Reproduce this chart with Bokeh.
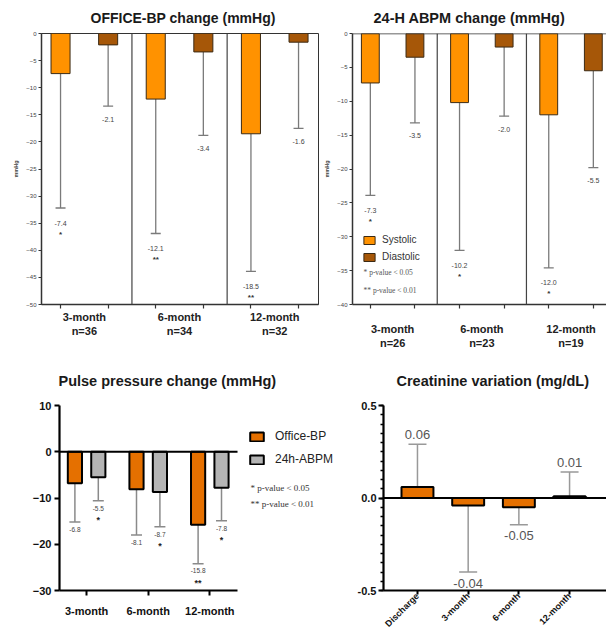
from bokeh.plotting import figure
from bokeh.layouts import row, column
from bokeh.models import (Range1d, FixedTicker, SingleIntervalTicker, Span, ColumnDataSource,
                          Label, Legend, LegendItem, PrintfTickFormatter)
from bokeh.core.properties import value
from bokeh.embed import file_html
from bokeh.resources import INLINE

# ---------------- data ----------------
periods = ["3-month", "6-month", "12-month"]

office_n = ["n=36", "n=34", "n=32"]
office_sys = [-7.4, -12.1, -18.5]
office_sys_sd = [24.8, 24.8, 25.4]
office_dia = [-2.1, -3.4, -1.6]
office_dia_sd = [11.3, 15.4, 15.9]
office_sys_sig = ["*", "**", "**"]
office_dia_sig = ["", "", ""]

abpm_n = ["n=26", "n=23", "n=19"]
abpm_sys = [-7.3, -10.2, -12.0]
abpm_sys_sd = [16.6, 21.8, 22.6]
abpm_dia = [-3.5, -2.0, -5.5]
abpm_dia_sd = [9.7, 10.2, 14.3]
abpm_sys_sig = ["*", "*", "*"]
abpm_dia_sig = ["", "", ""]

pp_office = [-6.8, -8.1, -15.8]
pp_office_sd = [8.4, 9.9, 8.4]
pp_abpm = [-5.5, -8.7, -7.8]
pp_abpm_sd = [5.1, 7.5, 7.1]
pp_office_sig = ["", "", "**"]
pp_abpm_sig = ["*", "*", "*"]

creat_periods = ["Discharge", "3-month", "6-month", "12-month"]
creat = [0.06, -0.04, -0.05, 0.01]
creat_sd = [0.23, 0.36, 0.095, 0.13]

SANS = "Liberation Sans"
SERIF = "Liberation Serif"
SYS_C = "#FF9200"
DIA_C = "#A65708"
OFF_C = "#E57000"
ABPM_C = "#B4B4B4"


def errbars(p, xs, means, sds, color, lw, cap):
    ends = [m + (s if m > 0 else -s) for m, s in zip(means, sds)]
    src = ColumnDataSource(dict(x=xs, m=means, e=ends))
    p.segment(x0="x", y0="m", x1="x", y1="e", source=src, line_color=color, line_width=lw)
    p.scatter(x="x", y="e", source=src, marker="dash", size=cap, line_color=color, line_width=lw)
    return ends


def texts(p, xs, ys, labels, size, color, offsets, style="normal", font=SANS):
    if not isinstance(offsets, list):
        offsets = [offsets] * len(xs)
    src = ColumnDataSource(dict(x=xs, y=ys, t=labels, o=offsets))
    p.text(x="x", y="y", text="t", source=src, text_font=value(font), text_font_size=size,
           text_color=color, text_align="center", text_baseline="middle", y_offset="o",
           text_font_style=style)


def set_title(p, txt, offset, standoff, size="14.5px"):
    p.title.text = txt
    p.title.align = "left"
    p.title.vertical_align = "middle"
    p.title.offset = offset
    p.title.standoff = standoff
    p.title.text_font = SANS
    p.title.text_font_size = size
    p.title.text_font_style = "bold"
    p.title.text_color = "#1a1a1a"


TOP_H = 352
TOP_BT = 33
TOP_FH = 271


def top_panel(ttl, width, bl, fw, unit, ymin, sysv, syssd, diav, diasd, syssig, diasig,
              ns, std, toff, tstand, tsize, box):
    p = figure(width=width, height=TOP_H, x_range=Range1d(-0.4, -0.4 + fw / unit),
               y_range=Range1d(ymin, 0), output_backend="svg", toolbar_location=None,
               min_border_left=bl, min_border_right=width - bl - fw,
               min_border_top=TOP_BT, min_border_bottom=TOP_H - TOP_BT - TOP_FH)
    p.grid.visible = False
    n = len(periods)
    xs_s = [2 * i for i in range(n)]
    xs_d = [2 * i + 1 for i in range(n)]
    centers = [2 * i + 0.5 for i in range(n)]
    for c in [1.5, 3.5]:
        p.add_layout(Span(location=c, dimension="height", line_color="#444", line_width=1.2))
    e_s = errbars(p, xs_s, sysv, syssd, "#7a7a7a", 1.3, 10)
    e_d = errbars(p, xs_d, diav, diasd, "#7a7a7a", 1.3, 10)
    rs = p.vbar(x=xs_s, top=sysv, bottom=0, width=0.4, fill_color=SYS_C, line_color="#3b2a14", line_width=1)
    rd = p.vbar(x=xs_d, top=diav, bottom=0, width=0.4, fill_color=DIA_C, line_color="#3b2a14", line_width=1)
    texts(p, xs_s, e_s, [f"{v:.1f}" for v in sysv], "7px", "#444", 15)
    texts(p, xs_d, e_d, [f"{v:.1f}" for v in diav], "7px", "#444", 13)
    texts(p, xs_s, e_s, syssig, "8px", "#333", 26, "bold")
    texts(p, xs_d, e_d, diasig, "8px", "#333", 26, "bold")

    p.xaxis.ticker = FixedTicker(ticks=centers, minor_ticks=xs_s + xs_d)
    p.xaxis.major_label_overrides = {c: f"{per}\n{nn}" for c, per, nn in zip(centers, periods, ns)}
    p.xaxis.major_tick_out = 0
    p.xaxis.major_tick_in = 0
    p.xaxis.minor_tick_out = 4
    p.xaxis.minor_tick_in = 0
    p.xaxis.minor_tick_line_color = "#333"
    p.xaxis.minor_tick_line_width = 1.2
    p.xaxis.major_label_standoff = std
    p.xaxis.major_label_text_font = SANS
    p.xaxis.major_label_text_font_size = "11px"
    p.xaxis.major_label_text_font_style = "bold"
    p.xaxis.major_label_text_color = "#222"
    p.xaxis.axis_line_width = 1.5
    p.xaxis.axis_line_color = "#333"

    p.yaxis.ticker = SingleIntervalTicker(interval=5, num_minor_ticks=0)
    p.yaxis.major_tick_out = 3
    p.yaxis.major_tick_in = 0
    p.yaxis.major_tick_line_color = "#333"
    p.yaxis.major_label_text_font = SANS
    p.yaxis.major_label_text_font_size = "6px"
    p.yaxis.major_label_text_color = "#444"
    p.yaxis.major_label_standoff = 2
    p.yaxis.axis_line_width = 1.5
    p.yaxis.axis_line_color = "#333"
    p.yaxis.axis_label = "mmHg"
    p.yaxis.axis_label_text_font = SANS
    p.yaxis.axis_label_text_font_size = "5.5px"
    p.yaxis.axis_label_text_font_style = "bold"
    p.yaxis.axis_label_standoff = 4

    if box:
        p.outline_line_color = "#333"
        p.outline_line_width = 1
    else:
        p.outline_line_color = None
        p.add_layout(Span(location=0, dimension="width", line_color="#333", line_width=1.5))
    set_title(p, ttl, toff, tstand, tsize)
    return p, rs, rd


p1, _, _ = top_panel("OFFICE-BP change (mmHg)", 320, 41, 277, 47.6, -50,
                     office_sys, office_sys_sd, office_dia, office_dia_sd,
                     office_sys_sig, office_dia_sig, office_n, 2, 49, 13, "14px", True)

p2, rs2, rd2 = top_panel("24-H ABPM change (mmHg)", 286, 32, 254, 44.6, -40,
                         abpm_sys, abpm_sys_sd, abpm_dia, abpm_dia_sd,
                         abpm_sys_sig, abpm_dia_sig, abpm_n, 14, 21, 13, "14.5px", False)

leg2 = Legend(items=[LegendItem(label="Systolic", renderers=[rs2]),
                     LegendItem(label="Diastolic", renderers=[rd2])],
              location=(10, 42), orientation="vertical", glyph_width=14, glyph_height=10,
              label_height=10, spacing=6, padding=0, margin=0, label_standoff=6,
              label_text_font=SANS, label_text_font_size="10px", label_text_color="#333",
              border_line_color=None, background_fill_alpha=0)
p2.add_layout(leg2)
for i, t in enumerate(["* p-value < 0.05", "** p-value < 0.01"]):
    p2.add_layout(Label(x=11, y=32 - 18 * i, x_units="screen", y_units="screen", text=t,
                        text_font=SERIF, text_font_size="7.5px", text_color="#555",
                        text_baseline="middle"))

# ---------------- pulse pressure ----------------
BOT_H = 284
BOT_BT = 53
BOT_FH = 185
PP_X0, PP_X1 = -0.44, 2.45
PP_UNIT = 61.6
p3 = figure(width=345, height=BOT_H, x_range=Range1d(PP_X0, PP_X0 + 286 / PP_UNIT),
            y_range=Range1d(-30, 10), output_backend="svg", toolbar_location=None,
            min_border_left=59, min_border_right=0, min_border_top=BOT_BT,
            min_border_bottom=BOT_H - BOT_BT - BOT_FH)
p3.grid.visible = False
p3.outline_line_color = None
xo = [i - 0.19 for i in range(len(periods))]
xa = [i + 0.19 for i in range(len(periods))]
eo = errbars(p3, xo, pp_office, pp_office_sd, "#8a8a8a", 1.5, 11)
ea = errbars(p3, xa, pp_abpm, pp_abpm_sd, "#8a8a8a", 1.5, 11)
ro = p3.vbar(x=xo, top=pp_office, bottom=0, width=0.23, fill_color=OFF_C, line_color="black", line_width=2)
ra = p3.vbar(x=xa, top=pp_abpm, bottom=0, width=0.23, fill_color=ABPM_C, line_color="black", line_width=2)
p3.segment(x0=[PP_X0], y0=[0], x1=[PP_X1], y1=[0], line_color="black", line_width=2.2)
texts(p3, xo, eo, [f"{v:.1f}" for v in pp_office], "6.5px", "#444", 7)
texts(p3, xa, ea, [f"{v:.1f}" for v in pp_abpm], "6.5px", "#444", 8)
texts(p3, xo, eo, pp_office_sig, "9px", "#222", 19, "bold")
texts(p3, xa, ea, pp_abpm_sig, "9px", "#222", 19, "bold")
p3.xaxis.ticker = FixedTicker(ticks=list(range(len(periods))))
p3.xaxis.major_label_overrides = {i: per for i, per in enumerate(periods)}
p3.xaxis.bounds = (PP_X0, PP_X1)
p3.yaxis.ticker = FixedTicker(ticks=[10, 0, -10, -20, -30])
for ax in (p3.xaxis, p3.yaxis):
    ax.axis_line_width = 2.2
    ax.axis_line_color = "black"
    ax.major_tick_out = 5
    ax.major_tick_in = 0
    ax.major_tick_line_width = 2
    ax.major_tick_line_color = "black"
    ax.minor_tick_line_color = None
    ax.major_label_text_font = SANS
    ax.major_label_text_font_size = "11px"
    ax.major_label_text_font_style = "bold"
    ax.major_label_text_color = "#111"
p3.xaxis.major_label_standoff = 9
p3.yaxis.major_label_standoff = 3
leg3 = Legend(items=[LegendItem(label="Office-BP", renderers=[ro]),
                     LegendItem(label="24h-ABPM", renderers=[ra])],
              location=(189, 124), orientation="vertical", glyph_width=17, glyph_height=11,
              label_height=11, spacing=9, padding=0, margin=0, label_standoff=10,
              label_text_font=SANS, label_text_font_size="12px", label_text_color="#222",
              border_line_color=None, background_fill_alpha=0)
p3.add_layout(leg3)
for i, t in enumerate(["* p-value < 0.05", "** p-value < 0.01"]):
    p3.add_layout(Label(x=191, y=103 - 16 * i, x_units="screen", y_units="screen", text=t,
                        text_font=SERIF, text_font_size="9px", text_color="#333",
                        text_baseline="middle"))
set_title(p3, "Pulse pressure change (mmHg)", -1, 32)

# ---------------- creatinine ----------------
CR_UNIT = 50.7
p4 = figure(width=261, height=BOT_H, x_range=Range1d(-0.67, -0.67 + 223 / CR_UNIT),
            y_range=Range1d(-0.5, 0.5), output_backend="svg", toolbar_location=None,
            min_border_left=38, min_border_right=0, min_border_top=BOT_BT,
            min_border_bottom=BOT_H - BOT_BT - BOT_FH)
p4.grid.visible = False
p4.outline_line_color = None
xc = list(range(len(creat_periods)))
ec = errbars(p4, xc, creat, creat_sd, "#999", 1.5, 18)
p4.vbar(x=xc, top=creat, bottom=0, width=0.63, fill_color=OFF_C, line_color="black", line_width=2)
p4.add_layout(Span(location=0, dimension="width", line_color="black", line_width=2.2))
texts(p4, xc, ec, [f"{v:.2f}" for v in creat], "13px", "#555",
      [-10 if v > 0 else 11 for v in creat])
p4.xaxis.ticker = FixedTicker(ticks=xc)
p4.xaxis.major_label_overrides = {i: per for i, per in enumerate(creat_periods)}
p4.xaxis.major_label_orientation = 0.785398
p4.yaxis.ticker = SingleIntervalTicker(interval=0.5, num_minor_ticks=10)
p4.yaxis.formatter = PrintfTickFormatter(format="%.1f")
for ax in (p4.xaxis, p4.yaxis):
    ax.axis_line_width = 2.2
    ax.axis_line_color = "black"
    ax.major_tick_out = 5
    ax.major_tick_in = 0
    ax.major_tick_line_width = 2
    ax.major_tick_line_color = "black"
    ax.major_label_text_font = SANS
    ax.major_label_text_font_style = "bold"
    ax.major_label_text_color = "#111"
p4.xaxis.minor_tick_line_color = None
p4.xaxis.major_tick_out = 4
p4.xaxis.major_label_text_font_size = "9px"
p4.xaxis.major_label_standoff = 0
p4.yaxis.major_label_text_font_size = "11px"
p4.yaxis.major_label_standoff = 2
p4.yaxis.minor_tick_out = 3
p4.yaxis.minor_tick_in = 0
p4.yaxis.minor_tick_line_width = 1.5
p4.yaxis.minor_tick_line_color = "black"
set_title(p4, "Creatinine variation (mg/dL)", 13, 32)

layout = column(row(p1, p2), row(p3, p4))
open("out.html", "w").write(file_html(layout, INLINE))
